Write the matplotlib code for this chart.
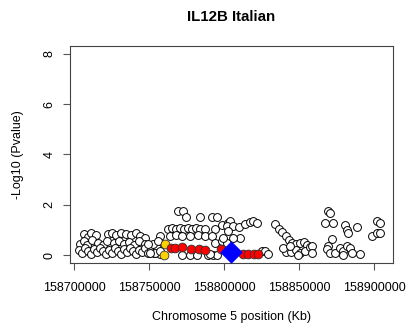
import numpy as np
import matplotlib
matplotlib.use("Agg")
import matplotlib.pyplot as plt

plt.rcParams['font.family'] = ['Liberation Sans', 'DejaVu Sans']

# SNPs outside the LD block (position in bp, -log10 p)
snp_pos = np.array([
    # left block, upper row
    6.7, 9.3, 11.3, 14.7, 22.7, 25.3, 28.0, 31.3, 34.7, 38.0, 41.3, 44.0, 47.3,
    # left block, middle row
    4.0, 6.7, 8.7, 12.0, 16.0, 19.3, 22.0, 26.7, 30.0, 33.3, 36.7, 40.0, 43.3, 47.3, 51.3,
    # left block, bottom rows
    3.3, 5.3, 7.3, 9.3, 11.3, 13.3, 15.3, 17.3, 19.3, 21.3, 23.3, 25.3, 27.3, 29.3,
    31.3, 33.3, 35.3, 37.3, 39.3, 41.3, 43.3, 45.3, 47.3, 49.3, 51.3, 53.3, 55.3, 57.3,
    # centre block
    69.3, 72.7, 74.7, 84.0, 92.0, 95.3,
    62.7, 65.3, 68.0, 70.7, 73.3, 76.0, 78.7, 81.3, 84.0, 87.3, 94.0,
    64.0, 68.0, 72.0, 77.3, 82.7, 87.3, 92.0,
    98.7, 102.7,
    52.7, 54.0, 57.3, 56.0, 49.3, 50.7, 57.3,
    94.0, 98.7, 102.0,
    92.7, 95.3, 89.3, 72.0, 77.3, 82.0, 90.7,
    104.0, 102.0, 106.0, 110.0, 114.0, 117.3, 119.3, 122.0, 102.7, 110.7, 106.0, 99.3,
    125.3, 127.3, 129.3,
    # descending group
    134.0, 136.7, 138.7, 141.3, 143.3, 145.3, 148.0, 150.7, 153.3, 155.3,
    141.3, 144.7, 148.0, 150.7, 154.0, 149.3, 157.3, 139.3, 144.0,
    # right block
    169.3, 170.7, 167.3, 172.7, 180.7, 182.0, 188.7, 182.7, 202.0, 204.0, 198.7, 202.0,
    204.0, 172.0, 169.3, 168.7, 170.7, 174.0, 177.3, 179.3, 182.0, 184.0, 185.3, 190.7,
    179.3, 158.7, 158.7,
]) * 1000 + 158700000

snp_logp = np.array([
    0.85, 0.72, 0.88, 0.80, 0.85, 0.88, 0.82, 0.86, 0.84, 0.80, 0.86, 0.75, 0.68,
    0.45, 0.55, 0.40, 0.60, 0.50, 0.42, 0.55, 0.48, 0.58, 0.44, 0.52, 0.40, 0.55, 0.45, 0.38,
    0.20, 0.08, 0.28, 0.15, 0.05, 0.25, 0.12, 0.30, 0.18, 0.06, 0.22, 0.10, 0.28, 0.15,
    0.04, 0.24, 0.12, 0.30, 0.18, 0.06, 0.22, 0.12, 0.28, 0.08, 0.20, 0.10, 0.30, 0.05,
    1.77, 1.77, 1.53, 1.53, 1.53, 1.53,
    1.02, 1.06, 1.02, 1.06, 1.02, 1.06, 1.02, 1.06, 1.02, 1.02, 1.02,
    0.78, 0.82, 0.78, 0.78, 0.82, 0.78, 0.78,
    1.18, 1.29,
    0.46, 0.10, 0.78, 0.58, 0.46, 0.10, 0.18,
    0.50, 0.58, 0.50,
    0.00, 0.02, 0.00, 0.00, 0.00, 0.02, 0.06,
    1.37, 1.14, 1.14, 1.10, 1.25, 1.33, 1.37, 1.29, 0.94, 0.70, 0.70, 0.70,
    0.18, 0.18, 0.06,
    1.22, 1.02, 0.90, 0.78, 0.62, 0.50, 0.46, 0.50, 0.54, 0.42,
    0.14, 0.14, 0.22, 0.10, 0.18, 0.00, 0.34, 0.30, 0.38,
    1.77, 1.69, 1.29, 1.29, 1.18, 0.98, 1.10, 0.86, 1.37, 1.29, 0.78, 0.86,
    0.86, 0.66, 0.38, 0.26, 0.10, 0.10, 0.30, 0.18, 0.38, 0.30, 0.10, 0.06,
    0.00, 0.38, 0.10,
])

# SNPs in moderate LD (gold) and strong LD (red) with the index SNP
gold_pos = [158760700, 158760000]
gold_logp = [0.46, 0.02]

red_pos = [158765000, 158767300, 158772300, 158778300, 158783500, 158787300,
           158798000, 158812900, 158816200, 158820000, 158822900]
red_logp = [0.29, 0.30, 0.34, 0.25, 0.25, 0.22, 0.25, 0.03, 0.03, 0.03, 0.03]

# index SNP
index_pos = [158805000]
index_logp = [0.13]

xticks = [158700000, 158750000, 158800000, 158850000, 158900000]
yticks = [0, 2, 4, 6, 8]

fig = plt.figure(figsize=(4.09, 3.29), dpi=100)
ax = fig.add_axes([0.171, 0.2, 0.79, 0.661])

ax.scatter(snp_pos, snp_logp, s=32, facecolors='white', edgecolors='black', linewidths=0.7, zorder=2)
ax.scatter(gold_pos, gold_logp, s=40, facecolors='#FFD000', edgecolors='#333333', linewidths=0.6, zorder=3)
ax.scatter(red_pos, red_logp, s=40, facecolors='#FF0000', edgecolors='#333333', linewidths=0.6, zorder=3)
ax.scatter(index_pos, index_logp, marker='D', s=110, facecolors='#0000FF', edgecolors='#0000FF', zorder=4)

ax.set_xlim(158697333, 158912667)
ax.set_ylim(-0.32, 8.32)
ax.set_xticks(xticks)
ax.set_xticklabels([str(t) for t in xticks])
ax.set_yticks(yticks)

for s in ax.spines.values():
    s.set_color('#444444')
    s.set_linewidth(0.8)
ax.tick_params(direction='out', length=5, width=0.8, color='#555555', labelsize=9)
ax.tick_params(axis='x', pad=8.5)
ax.tick_params(axis='y', pad=5.5)
plt.setp(ax.get_yticklabels(), rotation=90, va='center')

ax.set_title('IL12B Italian', fontsize=10.8, fontweight='bold', pad=17.5)
ax.set_xlabel('Chromosome 5 position (Kb)', fontsize=9)
ax.set_ylabel('-Log10 (Pvalue)', fontsize=9)
ax.xaxis.label.set_va('center')
ax.yaxis.label.set_va('center')
ax.xaxis.set_label_coords(0.5, -0.247)
ax.yaxis.set_label_coords(-0.161, 0.5)

fig.savefig('out.png', dpi=100)
